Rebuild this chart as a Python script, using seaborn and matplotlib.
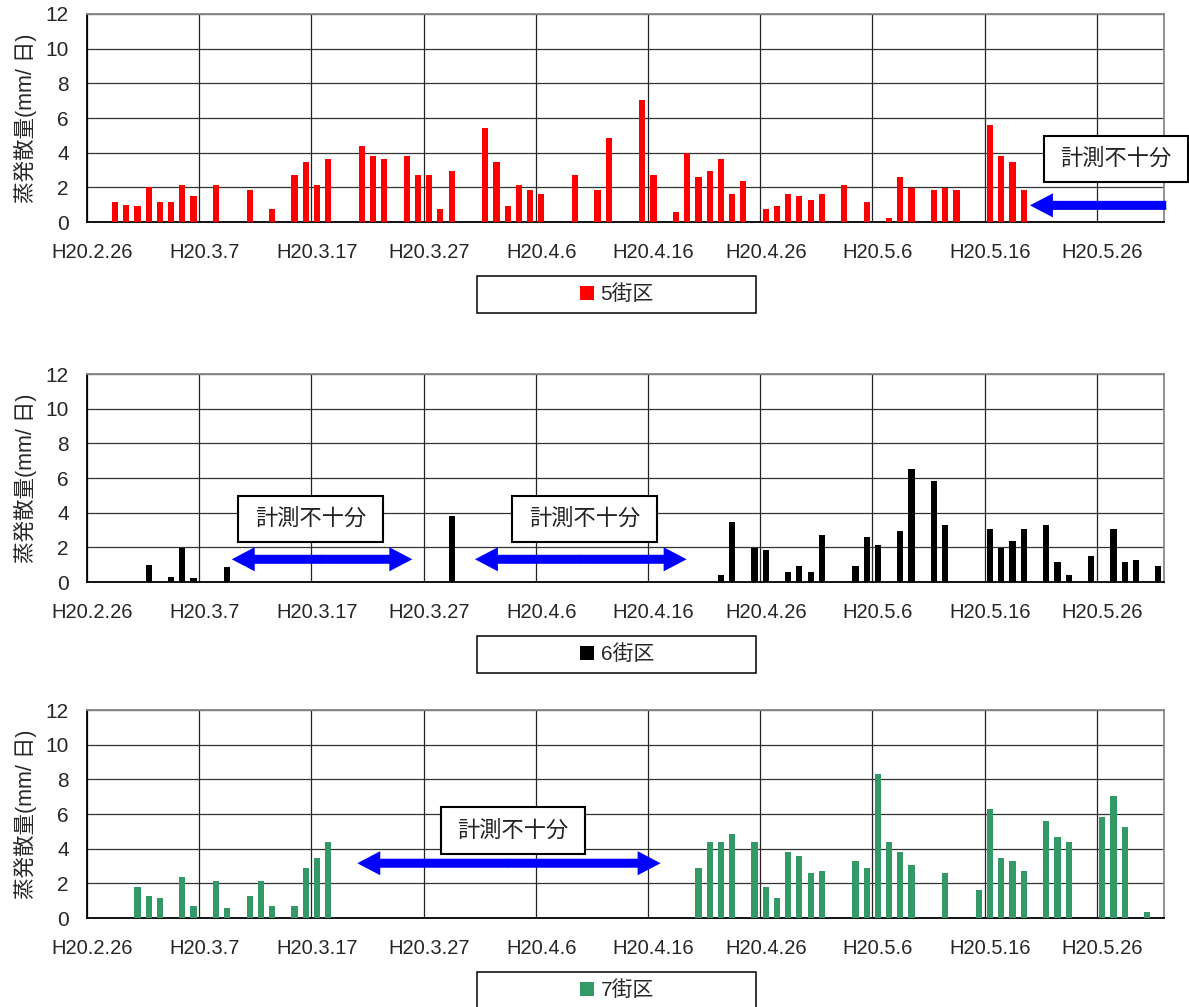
import numpy as np
import pandas as pd
import seaborn as sns
import matplotlib.pyplot as plt
from matplotlib.patches import Rectangle, FancyArrow

# day index counted from H20.2.26 (day 0) to H20.5.31 (day 95)
tick_labels = ['H20.2.26', 'H20.3.7', 'H20.3.17', 'H20.3.27', 'H20.4.6',
               'H20.4.16', 'H20.4.26', 'H20.5.6', 'H20.5.16', 'H20.5.26']

days5 = [2, 3, 4, 5, 6, 7, 8, 9, 11, 14, 16, 18, 19, 20, 21, 24, 25, 26, 28, 29,
         30, 31, 32, 35, 36, 37, 38, 39, 40, 43, 45, 46, 49, 50, 52, 53, 54, 55, 56,
         57, 58, 60, 61, 62, 63, 64, 65, 67, 69, 71, 72, 73, 75, 76, 77, 80, 81, 82, 83]
vals5 = [1.15, 0.97, 0.9, 2.0, 1.15, 1.15, 2.12, 1.49, 2.12, 1.83, 0.73, 2.7, 3.45,
         2.12, 3.62, 4.37, 3.8, 3.62, 3.8, 2.7, 2.7, 0.73, 2.93, 5.42, 3.45, 0.91,
         2.12, 1.83, 1.6, 2.7, 1.83, 4.84, 7.03, 2.7, 0.56, 3.97, 2.58, 2.93, 3.62,
         1.6, 2.35, 0.73, 0.91, 1.6, 1.49, 1.25, 1.6, 2.12, 1.15, 0.21, 2.58, 1.99,
         1.83, 1.99, 1.83, 5.59, 3.8, 3.45, 1.83]

days6 = [5, 7, 8, 9, 12, 32, 56, 57, 59, 60, 62, 63, 64, 65, 68, 69, 70, 72, 73, 75,
         76, 80, 81, 82, 83, 85, 86, 87, 89, 91, 92, 93, 95]
vals6 = [0.97, 0.27, 1.99, 0.21, 0.85, 3.8, 0.39, 3.45, 1.99, 1.83, 0.56, 0.91, 0.56,
         2.7, 0.91, 2.58, 2.12, 2.93, 6.51, 5.82, 3.28, 3.05, 1.99, 2.35, 3.05, 3.28,
         1.15, 0.39, 1.49, 3.05, 1.15, 1.25, 0.91]

days7 = [4, 5, 6, 8, 9, 11, 12, 14, 15, 16, 18, 19, 20, 21, 54, 55, 56, 57, 59, 60,
         61, 62, 63, 64, 65, 68, 69, 70, 71, 72, 73, 76, 79, 80, 81, 82, 83, 85, 86,
         87, 90, 91, 92, 94]
vals7 = [1.79, 1.27, 1.16, 2.37, 0.69, 2.14, 0.58, 1.27, 2.14, 0.69, 0.69, 2.89, 3.47,
         4.39, 2.89, 4.39, 4.39, 4.85, 4.39, 1.79, 1.16, 3.82, 3.58, 2.6, 2.72, 3.29,
         2.89, 8.32, 4.39, 3.82, 3.06, 2.6, 1.62, 6.3, 3.47, 3.29, 2.72, 5.61, 4.68,
         4.39, 5.84, 7.05, 5.26, 0.35]

names = ['5街区', '6街区', '7街区']
colors = ['#FF0000', '#000000', '#339966']
note = '計測不十分'
ylab = '蒸発散量(mm/ 日)'

sns.set_style('white')
plt.rcParams['font.family'] = ['Liberation Sans', 'Noto Sans CJK JP', 'DejaVu Sans']

W, H = 1189, 1007
fig = plt.figure(figsize=(W / 100, H / 100), dpi=100)


def note_box(ax, x0, x1, y0, y1):
    ax.add_patch(Rectangle((x0, y0), x1 - x0, y1 - y0, facecolor='white',
                           edgecolor='black', lw=1.5, zorder=5, clip_on=False))
    ax.text((x0 + x1) / 2, (y0 + y1) / 2, note, ha='center', va='center',
            fontsize=16, color='#222222', zorder=6, clip_on=False)


def arrow(ax, xs, xe, y):
    # shaft 9px, head 24px wide, 23px long (in data units)
    ax.add_patch(FancyArrow(xs, y, xe - xs, 0, width=0.52, head_width=1.39,
                            head_length=2.05, length_includes_head=True,
                            color='#0000FF', lw=0, zorder=4, clip_on=False))


def both_arrow(ax, x0, x1, y):
    c = (x0 + x1) / 2
    arrow(ax, c + 0.05, x0, y)
    arrow(ax, c - 0.05, x1, y)


series = [(days5, vals5), (days6, vals6), (days7, vals7)]
bottoms = [222, 582, 918]
axes = []
for (days, vals), name, color, bot in zip(series, names, colors, bottoms):
    ax = fig.add_axes([87 / W, 1 - bot / H, 1077 / W, 208 / H])
    df = pd.DataFrame({'day': days, 'value': vals})
    sns.barplot(data=df, x='day', y='value', native_scale=True, color=color,
                saturation=1, width=0.55, linewidth=0, errorbar=None,
                label=name, ax=ax, zorder=3)
    ax.set_xlim(-0.5, 95.5)
    ax.set_ylim(0, 12)
    ax.set_yticks(range(0, 13, 2))
    ax.set_xticks(np.arange(0, 96, 10))
    ax.set_xticklabels(tick_labels)
    ax.set_xticks(np.arange(-0.5, 95, 10), minor=True)
    ax.set_axisbelow(True)
    ax.grid(axis='y', color='#333333', lw=0.9)
    ax.grid(axis='x', which='minor', color='#222222', lw=0.9)
    ax.grid(axis='x', which='major', visible=False)
    ax.tick_params(axis='x', which='both', length=0, labelsize=14.5, pad=15)
    ax.tick_params(axis='y', length=0, labelsize=15, pad=13)
    ax.set_xlabel('')
    ax.set_ylabel(ylab, fontsize=15.5)
    ax.yaxis.set_label_coords(-0.046, 0.5)
    for s in ['left', 'bottom']:
        ax.spines[s].set_color('black')
        ax.spines[s].set_linewidth(1.3)
    for s in ['top', 'right']:
        ax.spines[s].set_color('#888888')
        ax.spines[s].set_linewidth(1.3)

    # legend box below the plot
    ax.add_patch(Rectangle((0.362, -0.4375), 0.259, 0.178, transform=ax.transAxes,
                           facecolor='white', edgecolor='black', lw=1.1,
                           clip_on=False, zorder=5))
    leg = ax.legend(loc='center', bbox_to_anchor=(0.492, -0.3486), frameon=False,
                    fontsize=15, handlelength=0.7, handleheight=0.7,
                    handletextpad=0.3, borderpad=0)
    leg.set_zorder(6)
    axes.append(ax)

ax1, ax2, ax3 = axes
note_box(ax1, 84.8, 97.6, 2.29, 4.95)
arrow(ax1, 95.7, 83.55, 0.96)

note_box(ax2, 12.96, 25.88, 2.29, 4.95)
both_arrow(ax2, 12.4, 28.5, 1.31)
note_box(ax2, 37.38, 50.3, 2.29, 4.95)
both_arrow(ax2, 34.08, 52.95, 1.31)

note_box(ax3, 31.02, 43.91, 3.68, 6.38)
both_arrow(ax3, 23.59, 50.63, 3.16)

fig.savefig('out.png', dpi=100)
